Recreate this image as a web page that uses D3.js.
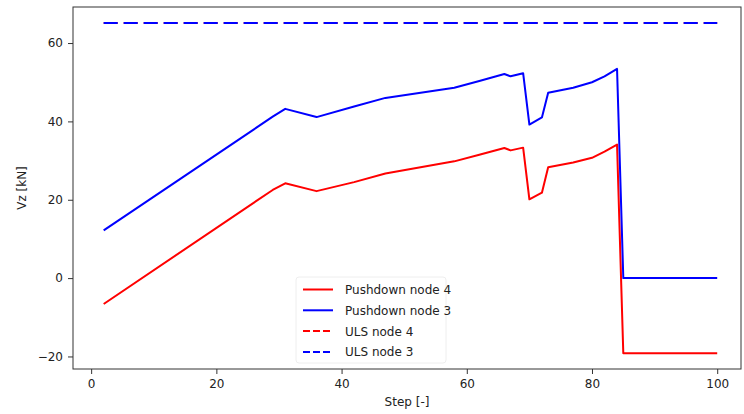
<!DOCTYPE html>
<html><head><meta charset="utf-8">
<script src="https://cdn.jsdelivr.net/npm/d3@7"></script>
<style>body{margin:0;background:#fff;} text{font-family:"DejaVu Sans",sans-serif;}</style>
</head><body><svg id="c" width="744" height="414"></svg>
<script>
const steps = [2, 29, 31, 36, 42, 47, 58, 62, 66, 67, 69, 70, 72, 73, 77, 80, 82, 84, 85, 100];
const pushdown4 = [-6.6, 22.5, 24.2, 22.2, 24.5, 26.7, 29.8, 31.5, 33.2, 32.6, 33.3, 20.1, 21.8, 28.3, 29.5, 30.7, 32.3, 34.1, -19.2, -19.2];
const pushdown3 = [12.2, 41.2, 43.2, 41.1, 43.8, 46.0, 48.6, 50.3, 52.1, 51.5, 52.3, 39.2, 41.0, 47.3, 48.6, 50.0, 51.5, 53.4, 0, 0];
const ulsSteps = [2, 100];
const uls4 = [65, 65];
const uls3 = [65, 65];
const xTicks = [0, 20, 40, 60, 80, 100];
const yTicks = [-20, 0, 20, 40, 60];
const seriesNames = ["Pushdown node 4", "Pushdown node 3", "ULS node 4", "ULS node 3"];
const seriesColors = ["#ff0000", "#0000ff", "#ff0000", "#0000ff"];
const seriesDash = [null, null, "14,6", "14,6"];

const svg = d3.select("#c");
const L = 73, R = 741, T = 7, B = 369;
const x = d3.scaleLinear().domain([-2.9, 103.8]).range([L, R]);
const y = d3.scaleLinear().domain([-23.2, 69.2]).range([B, T]);

const line = d3.line().x(d => x(d[0])).y(d => y(d[1]));
const snapLine = d3.line().x(d => x(d[0])).y(d => Math.round(y(d[1])));
const data = [
  steps.map((s, i) => [s, pushdown4[i]]),
  steps.map((s, i) => [s, pushdown3[i]]),
  ulsSteps.map((s, i) => [s, uls4[i]]),
  ulsSteps.map((s, i) => [s, uls3[i]])
];
svg.append("defs").append("clipPath").attr("id","clip").append("rect").attr("x",L).attr("y",T).attr("width",R-L).attr("height",B-T);
const g = svg.append("g").attr("clip-path","url(#clip)");
data.forEach((d, i) => {
  g.append("path").attr("d", i >= 2 ? snapLine(d) : line(d)).attr("fill","none")
    .attr("stroke", seriesColors[i]).attr("stroke-width", 2)
    .attr("stroke-dasharray", seriesDash[i]).attr("stroke-linejoin","round");
});

const xa = svg.append("g").attr("transform", `translate(0,${B})`)
  .call(d3.axisBottom(x).tickValues(xTicks).tickSize(5).tickPadding(5));
const ya = svg.append("g").attr("transform", `translate(${L},0)`)
  .call(d3.axisLeft(y).tickValues(yTicks).tickSize(5).tickPadding(5).tickFormat(d => d < 0 ? "\u2212" + Math.abs(d) : d));
[xa, ya].forEach(a => {
  a.select(".domain").remove();
  a.selectAll("line").attr("stroke","#333");
  a.selectAll("text").attr("font-size", 12).attr("fill","#222").attr("font-family","DejaVu Sans");
});
svg.append("rect").attr("x",L).attr("y",T).attr("width",R-L).attr("height",B-T)
  .attr("fill","none").attr("stroke","#333").attr("stroke-width",1);

svg.append("text").attr("x",(L+R)/2).attr("y",406).attr("text-anchor","middle")
  .attr("font-size",12).attr("fill","#222").text("Step [-]");
svg.append("text").attr("transform",`translate(26,${(T+B)/2}) rotate(-90)`).attr("text-anchor","middle")
  .attr("font-size",12).attr("fill","#222").text("Vz [kN]");

const lg = svg.append("g");
lg.append("rect").attr("x",296).attr("y",277).attr("width",150).attr("height",86).attr("rx",3)
  .attr("fill","#fff").attr("fill-opacity",0.8).attr("stroke","#eeeeee");
seriesNames.forEach((n, i) => {
  const yy = 289.5 + i * 20.8;
  lg.append("line").attr("x1",303).attr("x2",333).attr("y1",yy).attr("y2",yy)
    .attr("stroke",seriesColors[i]).attr("stroke-width",2).attr("stroke-dasharray", i>=2 ? "7,3" : null);
  lg.append("text").attr("x",345).attr("y",yy+4.5).attr("font-size",12).attr("fill","#222").text(n);
});
</script></body></html>
